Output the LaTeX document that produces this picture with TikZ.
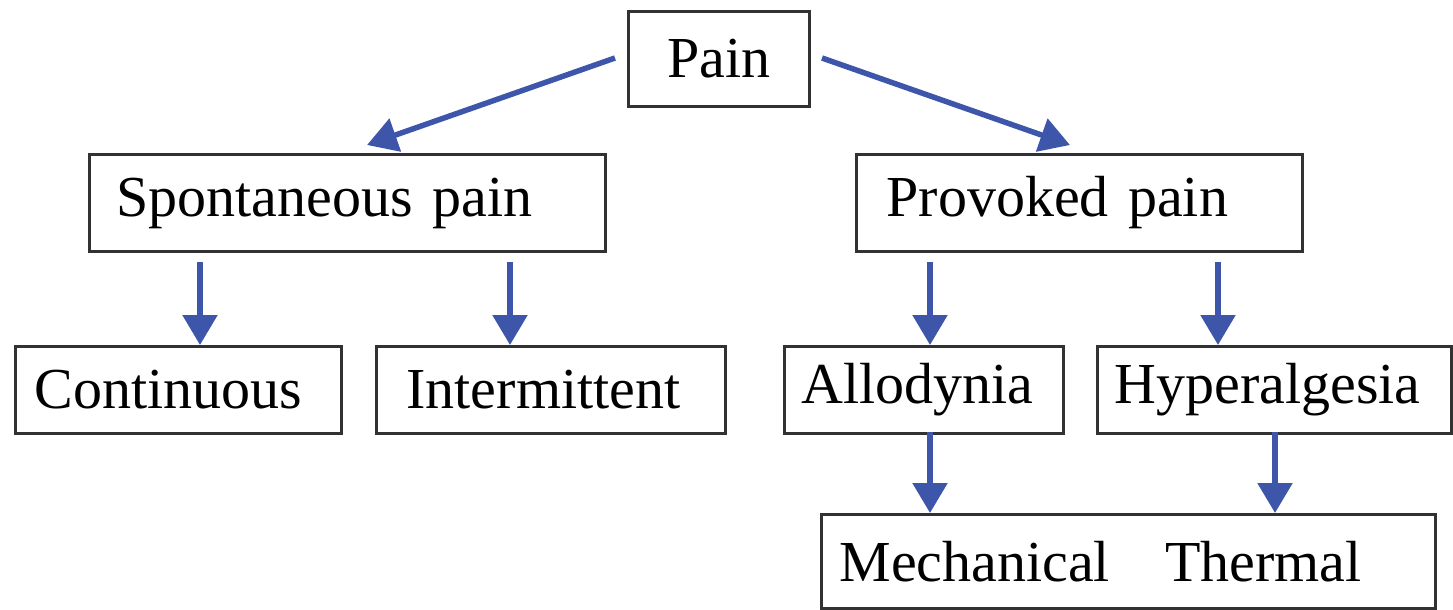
\documentclass[tikz,border=0pt]{standalone}
\usepackage{fontspec}
\setmainfont{Liberation Serif}
\usetikzlibrary{arrows.meta}
\definecolor{arrblue}{RGB}{62,86,170}
\definecolor{boxgray}{RGB}{50,50,50}
\begin{document}
\begin{tikzpicture}[x=1pt,y=1pt,
  box/.style={draw=boxgray,line width=3pt,anchor=north west,align=left,inner ysep=0pt,
    font=\fontsize{58}{64}\selectfont},
  arr/.style={draw=arrblue,line width=5.5pt,-{Triangle[width=34pt,length=30pt]},arrblue}]
\useasboundingbox (0,0) rectangle (1453,-610);
% boxes: text width = W - 2*pad
\node[box,minimum height=95,text width=141,inner xsep=20,align=center] (pain) at (627,-10) {Pain};
\node[box,minimum height=97,text width=462,inner xsep=27] (sp) at (88,-153) {Spontaneous pain};
\node[box,minimum height=97,text width=386,inner xsep=30] (pp) at (855,-153) {Provoked pain};
\node[box,minimum height=87,text width=288,inner xsep=19] (co) at (14,-345) {Continuous};
\node[box,minimum height=87,text width=289,inner xsep=30] (in) at (375,-345) {Intermittent};
\node[box,minimum height=87,text width=245,inner xsep=17] (al) at (783,-345) {Allodynia};
\node[box,minimum height=87,text width=320,inner xsep=17] (hy) at (1096,-345) {Hyperalgesia};
\node[box,minimum height=94,text width=578,inner xsep=18] (mt) at (820,-513) {Mechanical\hspace{55pt}Thermal};
% arrow start coordinates
\coordinate (p1) at (615,-58);
\coordinate (p2) at (822,-58);
\coordinate (t1) at (367,-145);
\coordinate (t2) at (1070,-145);
\coordinate (s1) at (200,-262);
\coordinate (s2) at (510,-262);
\coordinate (s3) at (930,-262);
\coordinate (s4) at (1218,-262);
\coordinate (s5) at (930,-432);
\coordinate (s6) at (1275,-432);
\draw[arr] (p1) -- (t1);
\draw[arr] (p2) -- (t2);
\draw[arr] (s1) -- (s1 |- co.north);
\draw[arr] (s2) -- (s2 |- in.north);
\draw[arr] (s3) -- (s3 |- al.north);
\draw[arr] (s4) -- (s4 |- hy.north);
\draw[arr] (s5) -- (s5 |- mt.north);
\draw[arr] (s6) -- (s6 |- mt.north);
\end{tikzpicture}
\end{document}
